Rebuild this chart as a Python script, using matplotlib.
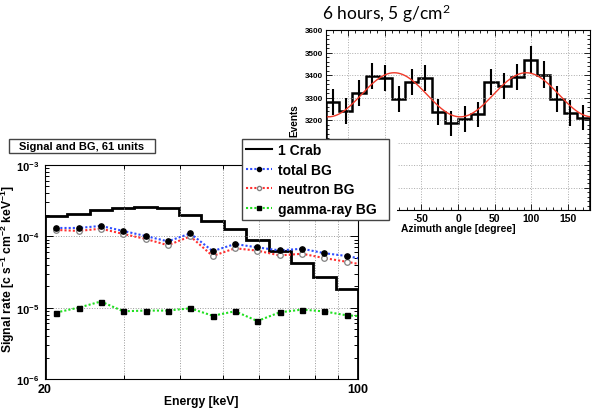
import numpy as np
import matplotlib
matplotlib.use('Agg')
import matplotlib.pyplot as plt
from matplotlib.lines import Line2D
from matplotlib.patches import Rectangle
from matplotlib.ticker import FixedLocator, NullFormatter, MultipleLocator, LogLocator, FuncFormatter

plt.rcParams['font.family'] = ['Liberation Sans', 'DejaVu Sans']
plt.rcParams['font.weight'] = 'bold'
plt.rcParams['axes.labelweight'] = 'bold'
plt.rcParams['axes.unicode_minus'] = False
plt.rcParams['mathtext.fontset'] = 'custom'
plt.rcParams['mathtext.rm'] = 'Liberation Sans:bold'
plt.rcParams['mathtext.it'] = 'Liberation Sans:bold'
plt.rcParams['mathtext.bf'] = 'Liberation Sans:bold'

# energy spectrum, 14 log bins between 20 and 100 keV
e_edges = [20, 22.44, 25.17, 28.23, 31.67, 35.53, 39.86, 44.72, 50.16,
           56.27, 63.13, 70.82, 79.44, 89.12, 100]
# bin centres (the last point sits just past 100 keV and is clipped)
e_mid = [21.18, 23.77, 26.66, 29.91, 33.55, 37.64, 42.22, 47.37, 53.14,
         59.61, 66.87, 75.02, 84.16, 94.41, 105.9]
crab = [1.93e-4, 2.06e-4, 2.31e-4, 2.49e-4, 2.55e-4, 2.48e-4, 2.01e-4,
        1.66e-4, 1.27e-4, 8.9e-5, 6.15e-5, 4.21e-5, 2.73e-5, 1.81e-5]
total_bg = [1.31e-4, 1.31e-4, 1.40e-4, 1.19e-4, 1.01e-4, 8.5e-5, 1.10e-4,
            6.2e-5, 7.8e-5, 7.0e-5, 6.35e-5, 6.7e-5, 5.8e-5, 5.3e-5, 4.6e-5]
neutron_bg = [1.23e-4, 1.19e-4, 1.28e-4, 1.08e-4, 9.2e-5, 7.5e-5, 1.0e-4,
              5.3e-5, 6.8e-5, 6.3e-5, 5.4e-5, 5.7e-5, 4.95e-5, 4.4e-5, 3.85e-5]
gamma_bg = [8.55e-6, 1.0e-5, 1.22e-5, 8.9e-6, 9.1e-6, 9.1e-6, 9.8e-6,
            7.7e-6, 8.9e-6, 6.5e-6, 8.6e-6, 9.4e-6, 8.85e-6, 7.8e-6, 7.5e-6]

# azimuth distribution, 18 degree bins
phi_edges = [-180, -162, -144, -126, -108, -90, -72, -54, -36, -18, 0,
             18, 36, 54, 72, 90, 108, 126, 144, 162, 180]
events = [3280, 3240, 3320, 3395, 3385, 3295, 3370, 3385, 3235, 3185,
          3205, 3225, 3370, 3350, 3390, 3468, 3402, 3295, 3230, 3210]
# fitted modulation curve: mean + amp * cos(2 (phi - phase))
fit_mean, fit_amp, fit_phase = 3312, 98, 93

blue = '#2f4dff'
red = '#ff3030'
green = '#20e020'
dots = (0, (1, 1))

W, H = 592, 410
fig = plt.figure(figsize=(W / 100, H / 100), dpi=100)


def box(x0, y0, x1, y1):
    # pixel box, origin top-left -> figure fractions
    return [x0 / W, 1 - y1 / H, (x1 - x0) / W, (y1 - y0) / H]


# ---- azimuth plot (upper right, partly hidden) ----
ax2 = fig.add_axes(box(326, 31, 590, 211), zorder=0)
edges = np.array(phi_edges)
mids = (edges[:-1] + edges[1:]) / 2
ax2.stairs(events, edges, color='black', lw=1.8)
ax2.errorbar(mids, events, yerr=np.sqrt(events), fmt='none', ecolor='black', elinewidth=1.5)
phi = np.linspace(-180, 180, 361)
ax2.plot(phi, fit_mean + fit_amp * np.cos(np.radians(2 * (phi - fit_phase))),
         color='#f03a2a', lw=1)
ax2.set_xlim(-180, 180)
ax2.set_ylim(2800, 3600)
ax2.xaxis.set_major_locator(MultipleLocator(50))
ax2.xaxis.set_minor_locator(MultipleLocator(10))
ax2.yaxis.set_major_locator(MultipleLocator(100))
ax2.yaxis.set_minor_locator(MultipleLocator(20))
# labels below 3200 and left of -50 are under the spectrum picture
ax2.xaxis.set_major_formatter(FuncFormatter(lambda v, p: '%d' % v if v > -60 else ''))
ax2.yaxis.set_major_formatter(FuncFormatter(lambda v, p: '%d' % v if v > 3150 else ''))
ax2.tick_params(which='both', direction='in', top=True, right=True, width=0.6)
ax2.tick_params(which='major', length=4)
ax2.tick_params(which='minor', length=2)
ax2.tick_params(axis='x', labelsize=7.5, pad=2)
ax2.tick_params(axis='y', labelsize=5.8, pad=2)
for lab in ax2.get_xticklabels() + ax2.get_yticklabels():
    lab.set_fontweight('bold')
ax2.grid(which='major', ls=':', color='#aaaaaa', lw=0.7)
ax2.set_xlabel('Azimuth angle [degree]', fontsize=7.4, labelpad=0)
ax2.set_ylabel('Events', fontsize=7.2)
ax2.yaxis.set_label_coords(-0.102, 0.5)
for s in ax2.spines.values():
    s.set_linewidth(0.8)
fig.text(322 / W, 1 - 20 / H, r'6 hours, 5 g/cm$^{\mathregular{2}}$', family=['Lato', 'DejaVu Sans'],
         weight='normal', fontsize=12.5, va='baseline')

# white page of the pasted spectrum picture
fig.add_artist(Rectangle((0, 0), 397 / W, 1 - 141 / H, transform=fig.transFigure,
                         facecolor='white', edgecolor='none', zorder=1))

# ---- spectrum plot ----
ax = fig.add_axes(box(45, 166, 358, 380), zorder=2)
ax.set_xscale('log')
ax.set_yscale('log')
ax.stairs(crab, e_edges, color='black', lw=2)
ax.plot(e_mid, neutron_bg, ls=dots, color=red, lw=1.5, marker='o', ms=4,
        mfc='white', mec='#808080', mew=0.9)
ax.plot(e_mid, total_bg, ls=dots, color=blue, lw=1.5, marker='o', ms=3.8,
        mfc='black', mec='black')
ax.plot(e_mid, gamma_bg, ls=dots, color=green, lw=1.5, marker='s', ms=3.6,
        mfc='black', mec='black')
ax.set_xlim(20, 100)
ax.set_ylim(1e-6, 1e-3)
ax.xaxis.set_major_locator(FixedLocator([20, 100]))
ax.set_xticklabels(['20', '100'])
ax.xaxis.set_minor_locator(FixedLocator([30, 40, 50, 60, 70, 80, 90]))
ax.xaxis.set_minor_formatter(NullFormatter())
ax.yaxis.set_major_locator(FixedLocator([1e-6, 1e-5, 1e-4, 1e-3]))
ax.set_yticklabels([r'$10^{-6}$', r'$10^{-5}$', r'$10^{-4}$', r'$10^{-3}$'])
ax.yaxis.set_minor_locator(LogLocator(base=10, subs=np.arange(2, 10)))
ax.yaxis.set_minor_formatter(NullFormatter())
ax.tick_params(which='both', direction='in', top=True, right=True, width=0.7)
ax.tick_params(which='major', length=6)
ax.tick_params(which='minor', length=3)
ax.tick_params(axis='x', labelsize=9, pad=3)
ax.tick_params(axis='y', labelsize=8, pad=4)
for lab in ax.get_xticklabels() + ax.get_yticklabels():
    lab.set_fontweight('bold')
ax.grid(which='minor', axis='x', ls=':', color='#999999', lw=0.7)
ax.grid(which='major', axis='y', ls=':', color='#999999', lw=0.7)
ax.set_xlabel('Energy [keV]', fontsize=8.7, labelpad=0)
ax.set_ylabel(r'Signal rate [c s$^{-1}$ cm$^{-2}$ keV$^{-1}$]', fontsize=8.7)
ax.yaxis.set_label_coords(-0.09, 0.52)

# title box
fig.add_artist(Rectangle((9 / W, 1 - 154 / H), 146 / W, 14 / H, transform=fig.transFigure,
                         facecolor='white', edgecolor='#444444', lw=1, zorder=3))
fig.text(82 / W, 1 - 147 / H, 'Signal and BG, 61 units', fontsize=8, ha='center',
         va='center', zorder=4)

# legend
handles = [
    Line2D([], [], color='black', lw=1.5),
    Line2D([], [], color=blue, ls=dots, lw=1.5, marker='o', ms=3, mfc='black', mec='black'),
    Line2D([], [], color=red, ls=dots, lw=1.5, marker='o', ms=3, mfc='white', mec='#808080'),
    Line2D([], [], color=green, ls=dots, lw=1.5, marker='s', ms=3, mfc='black', mec='black'),
]
labels = ['1 Crab', 'total BG', 'neutron BG', 'gamma-ray BG']
leg = fig.legend(handles, labels, loc='upper left', mode='expand',
                 bbox_to_anchor=(241.7 / W, 1 - 220 / H, 147.3 / W, 80 / H),
                 borderaxespad=0, fontsize=10, fancybox=False, framealpha=1,
                 edgecolor='#444444', borderpad=0.3, labelspacing=0.4,
                 handlelength=1.9, handletextpad=0.4, numpoints=1)
leg.get_frame().set_linewidth(1)
leg.set_zorder(5)

fig.savefig('out.png', dpi=100)
